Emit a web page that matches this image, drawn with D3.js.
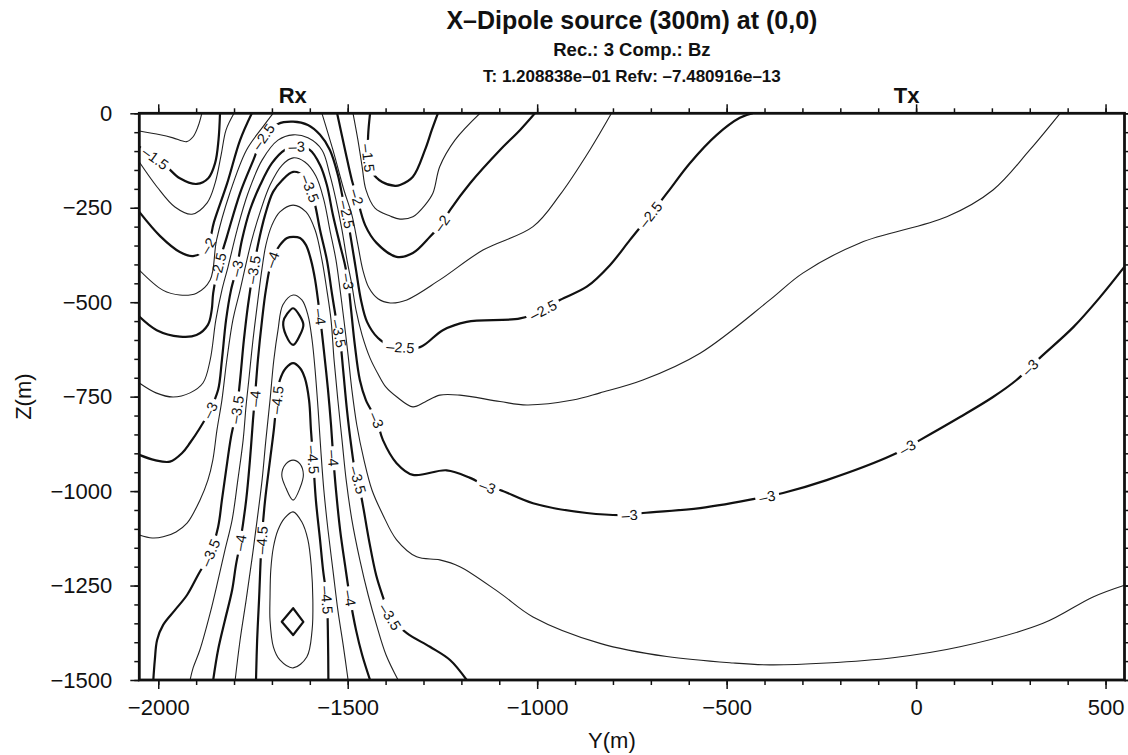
<!DOCTYPE html>
<html>
<head>
<meta charset="utf-8">
<script src="https://cdn.jsdelivr.net/npm/d3@7"></script>
<style>
  body { margin: 0; background: #fff; }
  svg { display: block; }
  text { font-family: "Liberation Sans", Arial, Helvetica, sans-serif; fill: #111; }
</style>
</head>
<body>
<svg id="chart" width="1128" height="755"></svg>
<script>
// ---- axes ----
const yDomain = [-2050, 550];          // horizontal offset Y (m)
const zDomain = [-1500, 0];            // depth Z (m)
const yMajorTicks = [-2000, -1500, -1000, -500, 0, 500];
const yMinorTicks = d3.range(-2000, 551, 100);
const zMajorTicks = [0, -250, -500, -750, -1000, -1250, -1500];
const zMinorTicks = d3.range(-1500, 1, 50);
const titleLines = ["X\u2013Dipole source (300m) at (0,0)", "Rec.: 3 Comp.: Bz", "T: 1.208838e\u201301 Refv: \u20137.480916e\u201313"];
const stations = [{ name: "Rx", y: -1645 }, { name: "Tx", y: -25 }];

// ---- contour lines, [Y, Z] in metres, log10 amplitude levels ----
const c125 = [[-2050,-47],[-1995,-57],[-1961,-65],[-1925,-75],[-1908,-62],[-1895,-35],[-1885,0]];
const c150a = [[-2050,-88],[-2008,-118],[-1978,-141],[-1943,-172],[-1898,-187],[-1868,-172],[-1850,-132],[-1841,-71],[-1837,0]];
const c150b = [[-1441,0],[-1446,-57],[-1446,-118],[-1436,-155],[-1409,-182],[-1375,-192],[-1362,-190],[-1328,-168],[-1296,-97],[-1278,-44],[-1262,0]];
const c175a = [[-2050,-129],[-2003,-195],[-1956,-248],[-1911,-267],[-1871,-237],[-1850,-185],[-1834,-110],[-1821,-44],[-1800,0]];
const c175b = [[-1486,0],[-1473,-71],[-1462,-141],[-1452,-202],[-1428,-251],[-1388,-272],[-1362,-280],[-1328,-274],[-1296,-243],[-1275,-211],[-1257,-141],[-1217,-71],[-1151,0]];
const c200a = [[-2050,-261],[-1995,-325],[-1943,-367],[-1908,-378],[-1871,-354],[-1853,-288],[-1818,-185],[-1784,-71],[-1753,0]];
const c200b = [[-1528,0],[-1507,-97],[-1489,-177],[-1476,-221],[-1454,-296],[-1424,-343],[-1371,-380],[-1328,-370],[-1283,-327],[-1252,-291],[-1230,-256],[-1177,-185],[-1098,-97],[-1045,-44],[-1006,0]];
const c225a = [[-2050,-415],[-1988,-468],[-1943,-481],[-1899,-476],[-1863,-441],[-1846,-335],[-1811,-211],[-1767,-97],[-1724,-36],[-1697,0]];
const c225b = [[-1568,0],[-1539,-97],[-1510,-203],[-1489,-269],[-1473,-349],[-1460,-415],[-1444,-462],[-1420,-491],[-1388,-502],[-1344,-494],[-1257,-441],[-1143,-362],[-1011,-300],[-940,-216],[-861,-97],[-804,0]];
const c250 = [[-2050,-538],[-2004,-574],[-1943,-591],[-1899,-587],[-1869,-560],[-1859,-521],[-1855,-476],[-1842,-406],[-1819,-327],[-1784,-211],[-1749,-124],[-1723,-62],[-1684,-28],[-1644,-22],[-1605,-31],[-1573,-57],[-1547,-97],[-1526,-163],[-1512,-229],[-1502,-269],[-1491,-335],[-1478,-415],[-1465,-494],[-1449,-552],[-1420,-595],[-1388,-616],[-1362,-619],[-1309,-619],[-1249,-574],[-1186,-552],[-1045,-543],[-985,-521],[-940,-494],[-869,-459],[-808,-402],[-755,-335],[-702,-269],[-655,-208],[-597,-132],[-526,-57],[-465,-12],[-431,0]];
const c275 = [[-2050,-714],[-2006,-740],[-1961,-751],[-1916,-740],[-1882,-714],[-1863,-653],[-1848,-547],[-1832,-468],[-1816,-407],[-1792,-309],[-1763,-211],[-1726,-124],[-1684,-71],[-1644,-57],[-1605,-65],[-1568,-97],[-1547,-163],[-1531,-229],[-1515,-309],[-1502,-388],[-1489,-454],[-1478,-521],[-1462,-587],[-1441,-648],[-1420,-690],[-1399,-725],[-1370,-751],[-1328,-777],[-1296,-764],[-1257,-746],[-1204,-746],[-1098,-763],[-1027,-772],[-906,-759],[-834,-740],[-721,-706],[-570,-635],[-386,-494],[-299,-423],[-148,-343],[81,-274],[203,-203],[300,-97],[380,0]];
const c300 = [[-2050,-904],[-2009,-918],[-1969,-922],[-1937,-899],[-1916,-872],[-1890,-833],[-1863,-785],[-1842,-732],[-1832,-653],[-1821,-547],[-1808,-468],[-1793,-410],[-1779,-335],[-1758,-256],[-1731,-190],[-1700,-132],[-1666,-97],[-1634,-88],[-1600,-97],[-1573,-137],[-1555,-190],[-1539,-269],[-1520,-349],[-1507,-402],[-1499,-446],[-1491,-521],[-1481,-615],[-1468,-706],[-1452,-759],[-1424,-812],[-1407,-865],[-1371,-926],[-1328,-957],[-1239,-945],[-1177,-965],[-1130,-989],[-1098,-997],[-1011,-1032],[-869,-1058],[-755,-1063],[-721,-1058],[-570,-1045],[-412,-1018],[-351,-1005],[-236,-971],[-61,-904],[10,-865],[116,-804],[203,-751],[265,-706],[326,-648],[415,-566],[486,-486],[550,-406]];
const c325 = [[-2050,-1116],[-2016,-1124],[-1987,-1121],[-1953,-1108],[-1924,-1085],[-1890,-1024],[-1869,-971],[-1856,-918],[-1845,-838],[-1832,-759],[-1819,-653],[-1803,-547],[-1784,-468],[-1771,-410],[-1753,-335],[-1731,-261],[-1705,-190],[-1673,-137],[-1644,-118],[-1613,-129],[-1584,-166],[-1563,-229],[-1547,-309],[-1531,-388],[-1520,-468],[-1510,-547],[-1499,-640],[-1489,-732],[-1476,-825],[-1457,-918],[-1436,-997],[-1407,-1063],[-1371,-1129],[-1318,-1174],[-1257,-1182],[-1204,-1200],[-1098,-1270],[-1011,-1333],[-834,-1403],[-658,-1438],[-483,-1455],[-386,-1460],[-236,-1455],[-61,-1441],[116,-1412],[335,-1350],[467,-1280],[550,-1249]];
const c350 = [[-2013,-1500],[-2009,-1447],[-2003,-1394],[-1987,-1354],[-1956,-1315],[-1924,-1275],[-1895,-1222],[-1863,-1164],[-1842,-1095],[-1832,-1024],[-1821,-945],[-1808,-857],[-1793,-785],[-1784,-706],[-1774,-600],[-1763,-507],[-1749,-415],[-1737,-349],[-1718,-269],[-1697,-208],[-1673,-177],[-1644,-155],[-1616,-166],[-1600,-198],[-1586,-243],[-1573,-309],[-1555,-388],[-1541,-481],[-1528,-560],[-1520,-600],[-1512,-680],[-1502,-785],[-1491,-878],[-1481,-945],[-1473,-971],[-1460,-1037],[-1444,-1129],[-1425,-1222],[-1407,-1280],[-1388,-1333],[-1344,-1376],[-1283,-1412],[-1230,-1447],[-1186,-1500]];
const c375 = [[-1916,-1500],[-1908,-1468],[-1890,-1420],[-1863,-1323],[-1842,-1235],[-1824,-1156],[-1805,-1076],[-1790,-971],[-1776,-865],[-1768,-772],[-1761,-706],[-1750,-600],[-1737,-494],[-1726,-410],[-1716,-349],[-1700,-296],[-1679,-261],[-1644,-243],[-1610,-261],[-1586,-309],[-1568,-388],[-1555,-468],[-1544,-547],[-1536,-653],[-1526,-759],[-1515,-865],[-1504,-971],[-1489,-1076],[-1468,-1182],[-1446,-1275],[-1424,-1354],[-1399,-1433],[-1367,-1500]];
const c400 = [[-1855,-1500],[-1842,-1420],[-1824,-1342],[-1805,-1262],[-1795,-1196],[-1784,-1137],[-1768,-1024],[-1758,-918],[-1750,-812],[-1745,-754],[-1737,-653],[-1726,-547],[-1716,-468],[-1700,-388],[-1679,-349],[-1660,-330],[-1644,-327],[-1626,-330],[-1610,-349],[-1597,-388],[-1586,-441],[-1573,-538],[-1563,-627],[-1552,-732],[-1544,-825],[-1538,-912],[-1531,-997],[-1520,-1103],[-1507,-1196],[-1494,-1283],[-1478,-1368],[-1462,-1433],[-1441,-1500]];
const c425 = [[-1797,-1500],[-1784,-1394],[-1768,-1288],[-1753,-1182],[-1739,-1076],[-1726,-971],[-1716,-865],[-1705,-759],[-1695,-653],[-1684,-574],[-1671,-507],[-1644,-481],[-1621,-494],[-1605,-534],[-1594,-600],[-1586,-680],[-1578,-785],[-1571,-891],[-1563,-997],[-1552,-1103],[-1539,-1209],[-1526,-1315],[-1512,-1407],[-1499,-1500]];
const c450a = [[-1742,-1500],[-1739,-1394],[-1734,-1288],[-1727,-1129],[-1718,-1024],[-1705,-918],[-1695,-838],[-1687,-759],[-1679,-706],[-1663,-674],[-1644,-661],[-1626,-674],[-1613,-701],[-1602,-759],[-1597,-838],[-1591,-918],[-1584,-1024],[-1573,-1129],[-1565,-1209],[-1555,-1288],[-1552,-1394],[-1551,-1500]];
const c450b = [[-1644,-516],[-1626,-537],[-1617,-560],[-1626,-587],[-1644,-613],[-1663,-587],[-1670,-552],[-1660,-531]];
const c475a = [[-1644,-918],[-1626,-928],[-1617,-957],[-1626,-992],[-1644,-1024],[-1663,-992],[-1674,-957],[-1663,-928]];
const c475b = [[-1644,-1055],[-1621,-1082],[-1605,-1129],[-1596,-1201],[-1592,-1288],[-1594,-1368],[-1608,-1439],[-1644,-1468],[-1679,-1447],[-1696,-1413],[-1705,-1342],[-1705,-1280],[-1703,-1209],[-1696,-1148],[-1684,-1103],[-1666,-1071]];
const c500 = [[-1644,-1310],[-1617,-1346],[-1644,-1381],[-1674,-1346]];

// annotation positions: [level, Y, Z]
const contourLabels = [
  [-1.5,-2008,-118],[-2,-1868,-350],[-2.5,-1841,-406],[-3,-1793,-410],[-3.5,-1749,-415],[-4,-1700,-388],
  [-2.5,-1723,-62],[-3,-1634,-88],[-3.5,-1613,-203],
  [-1.5,-1446,-118],[-2,-1476,-221],[-2.5,-1503,-269],[-3,-1499,-446],[-3.5,-1520,-582],[-4,-1573,-538],
  [-2.5,-1362,-618],[-2,-1252,-291],[-2.5,-984,-521],[-2.5,-702,-269],
  [-3,-1863,-785],[-3.5,-1793,-785],[-4,-1745,-754],[-4.5,-1687,-759],
  [-3.5,-1863,-1164],[-4,-1784,-1137],[-4.5,-1727,-1129],
  [-4.5,-1591,-918],[-4,-1538,-912],[-3.5,-1473,-971],[-3,-1423,-812],
  [-4.5,-1555,-1288],[-4,-1494,-1283],[-3.5,-1388,-1333],
  [-3,-1130,-989],[-3,-755,-1063],[-3,-393,-1010],[-3,-25,-878],[-3,301,-671]
];

const contourSets = [
  { level: -1.25, paths: [c125] },
  { level: -1.5, paths: [c150a, c150b] },
  { level: -1.75, paths: [c175a, c175b] },
  { level: -2, paths: [c200a, c200b] },
  { level: -2.25, paths: [c225a, c225b] },
  { level: -2.5, paths: [c250] },
  { level: -2.75, paths: [c275] },
  { level: -3, paths: [c300] },
  { level: -3.25, paths: [c325] },
  { level: -3.5, paths: [c350] },
  { level: -3.75, paths: [c375] },
  { level: -4, paths: [c400] },
  { level: -4.25, paths: [c425] },
  { level: -4.5, paths: [c450a] },
  { level: -4.5, paths: [c450b], closed: true },
  { level: -4.75, paths: [c475a, c475b], closed: true },
  { level: -5, paths: [c500], closed: true }
];

// ---- drawing ----
const W = 1128, H = 755;
const frame = { left: 139.3, right: 1124.5, top: 113.3, bottom: 680 };
const svg = d3.select("#chart");
const x = d3.scaleLinear().domain(yDomain).range([frame.left, frame.right]);
const y = d3.scaleLinear().domain(zDomain).range([frame.bottom, frame.top]);

const defs = svg.append("defs");
defs.append("clipPath").attr("id", "plotClip").append("rect")
  .attr("x", frame.left).attr("y", frame.top)
  .attr("width", frame.right - frame.left).attr("height", frame.bottom - frame.top);

const lineOpen = d3.line().x(d => x(d[0])).y(d => y(d[1])).curve(d3.curveCatmullRom.alpha(0.5));
const lineClosed = d3.line().x(d => x(d[0])).y(d => y(d[1])).curve(d3.curveCatmullRomClosed.alpha(0.5));
const lineDiamond = d3.line().x(d => x(d[0])).y(d => y(d[1])).curve(d3.curveLinearClosed);

const isAnnotated = lev => Math.abs(lev * 2 - Math.round(lev * 2)) < 1e-6;
const fmtLevel = lev => String(lev).replace("-", "\u2013");

const gLines = svg.append("g").attr("clip-path", "url(#plotClip)");
const runs = [];
contourSets.forEach(set => {
  set.paths.forEach(pts => {
    const gen = set.closed ? (pts.length <= 4 ? lineDiamond : lineClosed) : lineOpen;
    const major = isAnnotated(set.level);
    const p = gLines.append("path")
      .attr("d", gen(pts))
      .attr("fill", "none")
      .attr("stroke", major ? "#111" : "#222")
      .attr("stroke-width", major ? 2.2 : 1.1)
      .attr("stroke-linejoin", "round");
    const node = p.node();
    const len = node.getTotalLength();
    const samples = d3.range(0, len, 1).map(l => node.getPointAtLength(l));
    runs.push({ level: set.level, sel: p, samples, gaps: [] });
  });
});

// place annotations on their lines
const gLabels = svg.append("g");
contourLabels.forEach(([lev, yy, zz]) => {
  const px = x(yy), py = y(zz);
  let best = null, bd = Infinity;
  runs.filter(r => r.level === lev).forEach(r => {
    r.samples.forEach((s, i) => {
      const d = (s.x - px) ** 2 + (s.y - py) ** 2;
      if (d < bd) { bd = d; best = { r, i }; }
    });
  });
  if (!best) return;
  const s = best.r.samples;
  const a = s[Math.max(0, best.i - 7)], b = s[Math.min(s.length - 1, best.i + 7)];
  let ang = Math.atan2(b.y - a.y, b.x - a.x) * 180 / Math.PI;
  if (ang > 90) ang -= 180;
  if (ang <= -90) ang += 180;
  const c = s[best.i];
  const t = gLabels.append("text")
    .attr("transform", `translate(${c.x},${c.y}) rotate(${ang})`)
    .attr("text-anchor", "middle")
    .attr("dy", "0.36em")
    .style("font-size", "14.5px")
    .text(fmtLevel(lev));
  const w = t.node().getComputedTextLength();
  best.r.gaps.push({ cx: c.x, cy: c.y, ang, w });
});

runs.forEach((r, k) => {
  if (!r.gaps.length) return;
  const m = defs.append("mask").attr("id", "gap" + k)
    .attr("maskUnits", "userSpaceOnUse")
    .attr("x", 0).attr("y", 0).attr("width", W).attr("height", H);
  m.append("rect").attr("x", 0).attr("y", 0).attr("width", W).attr("height", H).attr("fill", "#fff");
  r.gaps.forEach(g => {
    m.append("rect")
      .attr("x", -g.w / 2 - 4).attr("y", -7).attr("width", g.w + 8).attr("height", 14)
      .attr("transform", `translate(${g.cx},${g.cy}) rotate(${g.ang})`)
      .attr("fill", "#000");
  });
  r.sel.attr("mask", `url(#gap${k})`);
});

// axes
const fmtTick = d3.format("d");
function styleAxis(g) {
  g.select(".domain").remove();
  g.selectAll(".tick line").attr("stroke", "#111").attr("stroke-width", 1.5);
  g.selectAll(".tick text").style("font-size", "22px").attr("fill", "#111");
}
svg.append("g").attr("transform", `translate(0,${frame.bottom})`)
  .call(d3.axisBottom(x).tickValues(yMinorTicks).tickSize(5).tickFormat("")).call(styleAxis);
svg.append("g").attr("transform", `translate(0,${frame.bottom})`)
  .call(d3.axisBottom(x).tickValues(yMajorTicks).tickSize(9).tickPadding(10).tickFormat(fmtTick)).call(styleAxis);
svg.append("g").attr("transform", `translate(0,${frame.top})`)
  .call(d3.axisTop(x).tickValues(yMinorTicks).tickSize(5).tickFormat("")).call(styleAxis);
svg.append("g").attr("transform", `translate(0,${frame.top})`)
  .call(d3.axisTop(x).tickValues(yMajorTicks).tickSize(9).tickFormat("")).call(styleAxis);
svg.append("g").attr("transform", `translate(${frame.left},0)`)
  .call(d3.axisLeft(y).tickValues(zMinorTicks).tickSize(5).tickFormat("")).call(styleAxis);
svg.append("g").attr("transform", `translate(${frame.left},0)`)
  .call(d3.axisLeft(y).tickValues(zMajorTicks).tickSize(9).tickPadding(18).tickFormat(fmtTick)).call(styleAxis);
svg.append("g").attr("transform", `translate(${frame.right},0)`)
  .call(d3.axisRight(y).tickValues(zMinorTicks).tickSize(5).tickFormat("")).call(styleAxis);
svg.append("g").attr("transform", `translate(${frame.right},0)`)
  .call(d3.axisRight(y).tickValues(zMajorTicks).tickSize(9).tickFormat("")).call(styleAxis);

svg.append("rect")
  .attr("x", frame.left).attr("y", frame.top)
  .attr("width", frame.right - frame.left).attr("height", frame.bottom - frame.top)
  .attr("fill", "none").attr("stroke", "#111").attr("stroke-width", 2.8);

// axis titles
svg.append("text").attr("x", (frame.left + frame.right) / 2 - 20).attr("y", 748)
  .attr("text-anchor", "middle").style("font-size", "22px").text("Y(m)");
svg.append("text").attr("transform", `translate(31,${(frame.top + frame.bottom) / 2}) rotate(-90)`)
  .attr("text-anchor", "middle").style("font-size", "22px").text("Z(m)");

// titles
const cx = (frame.left + frame.right) / 2;
svg.append("text").attr("x", cx).attr("y", 29).attr("text-anchor", "middle")
  .style("font-size", "25px").style("font-weight", "bold").text(titleLines[0]);
svg.append("text").attr("x", cx).attr("y", 56).attr("text-anchor", "middle")
  .style("font-size", "18.5px").style("font-weight", "bold").text(titleLines[1]);
svg.append("text").attr("x", cx).attr("y", 82).attr("text-anchor", "middle")
  .style("font-size", "17px").style("font-weight", "bold").text(titleLines[2]);

// source / receiver markers
svg.append("g").selectAll("text").data(stations).join("text")
  .attr("x", d => x(d.y)).attr("y", 103).attr("text-anchor", "middle")
  .style("font-size", "22px").style("font-weight", "bold").text(d => d.name);
</script>
</body>
</html>
